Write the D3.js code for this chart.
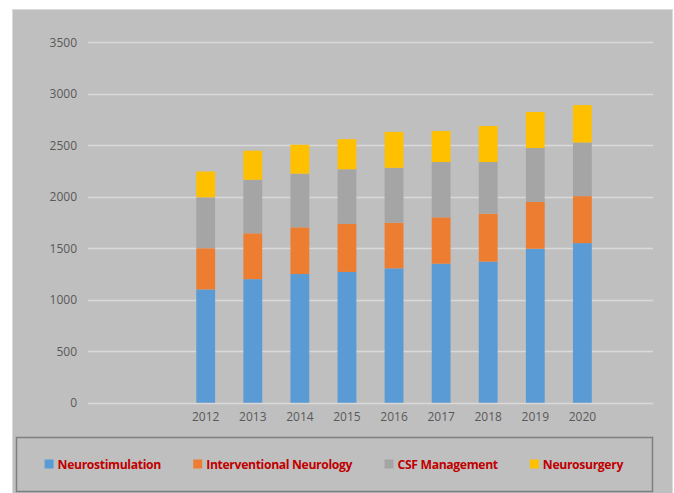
<!DOCTYPE html>
<html>
<head>
<meta charset="utf-8">
<script src="https://cdn.jsdelivr.net/npm/d3@7"></script>
<style>
  body { margin: 0; background: #fff; }
  svg { display: block; }
</style>
</head>
<body>
<div id="chart"></div>
<script>
// Chart data
const years = ["2012", "2013", "2014", "2015", "2016", "2017", "2018", "2019", "2020"];
const seriesNames = ["Neurostimulation", "Interventional Neurology", "CSF Management", "Neurosurgery"];
const neurostimulation = [1100, 1200, 1250, 1270, 1305, 1350, 1370, 1495, 1550];
const interventional = [400, 445, 453, 466, 443, 450, 465, 454, 456];
const csfManagement = [495, 520, 521, 531, 533, 537, 502, 524, 521];
const neurosurgery = [250, 282, 281, 292, 349, 301, 350, 350, 363];
const yTicks = [0, 500, 1000, 1500, 2000, 2500, 3000, 3500];
const colors = ["#5b9bd5", "#ed7d31", "#a5a5a5", "#ffc000"];

// Empty slots in the category axis (two before, one after)
const slots = ["_a", "_b"].concat(years, ["_c"]);

// Build table for the stack
const table = years.map((y, i) => ({
    year: y,
    "Neurostimulation": neurostimulation[i],
    "Interventional Neurology": interventional[i],
    "CSF Management": csfManagement[i],
    "Neurosurgery": neurosurgery[i]
}));

const width = 674, height = 493;

const svg = d3.select("#chart").append("svg")
    .attr("width", width)
    .attr("height", height);

// Grey chart area
svg.append("rect")
    .attr("x", 12.5).attr("y", 9.5)
    .attr("width", 660).attr("height", 490)
    .attr("fill", "#bfbfbf")
    .attr("stroke", "#d9d9d9")
    .attr("stroke-width", 1);

const x = d3.scaleBand()
    .domain(slots)
    .range([88, 653])
    .paddingInner(0.6)
    .paddingOuter(0.3);

const y = d3.scaleLinear()
    .domain([0, 3500])
    .range([402.7, 42.3]);

// Gridlines
svg.append("g")
    .selectAll("line")
    .data(yTicks)
    .join("line")
    .attr("x1", 88).attr("x2", 653)
    .attr("y1", d => Math.round(y(d)) + 0.5)
    .attr("y2", d => Math.round(y(d)) + 0.5)
    .attr("stroke", "#d9d9d9")
    .attr("stroke-width", 1.3);

// Y axis labels
const yAxis = svg.append("g")
    .attr("transform", "translate(88,0)")
    .call(d3.axisLeft(y).tickValues(yTicks).tickFormat(d3.format("d")).tickSize(0).tickPadding(11));
yAxis.select(".domain").remove();
yAxis.selectAll("text")
    .attr("fill", "#595959")
    .style("font-family", "'Open Sans', sans-serif")
    .style("font-size", "12px");

// Stacked bars
const stack = d3.stack().keys(seriesNames);
const layers = stack(table);

svg.append("g")
    .selectAll("g")
    .data(layers)
    .join("g")
    .attr("fill", (d, i) => colors[i])
    .selectAll("rect")
    .data(d => d)
    .join("rect")
    .attr("x", d => x(d.data.year))
    .attr("y", d => y(d[1]))
    .attr("width", x.bandwidth())
    .attr("height", d => y(d[0]) - y(d[1]));

// X axis labels
const xAxis = svg.append("g")
    .attr("transform", "translate(0,403)")
    .call(d3.axisBottom(x).tickValues(years).tickSize(0).tickPadding(9));
xAxis.select(".domain").remove();
xAxis.selectAll("text")
    .attr("fill", "#595959")
    .style("font-family", "'Open Sans', sans-serif")
    .style("font-size", "12px");

// Legend box
svg.append("rect")
    .attr("x", 16.5).attr("y", 437.5)
    .attr("width", 636).attr("height", 54)
    .attr("fill", "none")
    .attr("stroke", "#7f7f7f")
    .attr("stroke-width", 1.5);

const legend = svg.append("g");
const items = legend.selectAll("g")
    .data(seriesNames)
    .join("g");

items.append("rect")
    .attr("width", 9).attr("height", 9)
    .attr("y", 459.5)
    .attr("fill", (d, i) => colors[i]);

items.append("text")
    .attr("x", 13)
    .attr("y", 468.5)
    .attr("fill", "#c00000")
    .style("font-family", "'Open Sans', sans-serif")
    .style("font-weight", "bold")
    .style("font-size", "12.2px")
    .style("letter-spacing", "-0.35px")
    .text(d => d);

// Lay legend items out one after another, centred in the box
let offset = 0;
const positions = [];
items.each(function () {
    positions.push(offset);
    offset += this.getBBox().width + 32;
});
offset -= 32;
const start = 334 - offset / 2;
items.attr("transform", (d, i) => `translate(${start + positions[i]},0)`);
</script>
</body>
</html>
